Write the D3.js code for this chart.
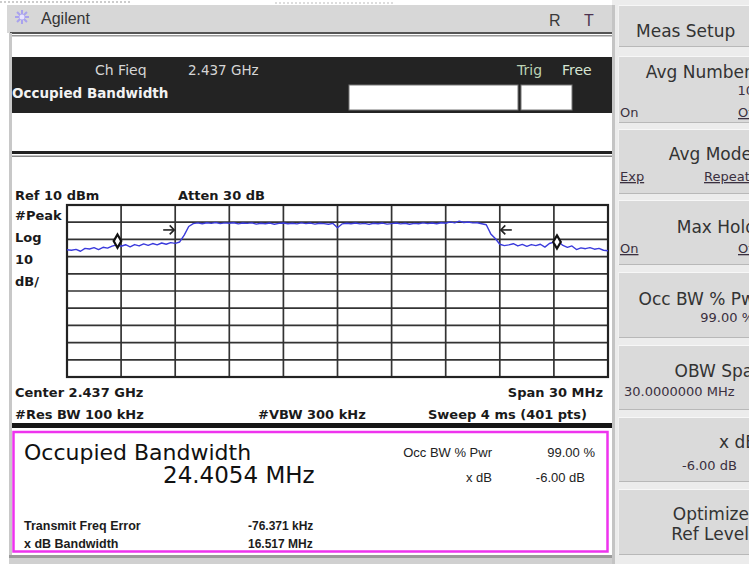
<!DOCTYPE html>
<html>
<head>
<meta charset="utf-8">
<script src="https://cdn.jsdelivr.net/npm/d3@7"></script>
<style>
  html, body { margin: 0; padding: 0; background: #fff; overflow: hidden; }
  svg { display: block; }
</style>
</head>
<body>
<svg id="scr" width="749" height="564"></svg>
<script>
"use strict";

// trace: 121 sweep points from -15 MHz to +15 MHz around 2.437 GHz (dBm)
const spanMHz = [-15, 15];
const levelRange = [-90, 10];
const traceLevels = [
  -16.0, -16.3, -15.8, -16.9, -15.2, -15.6, -14.8, -15.9, -14.6, -15.1,
  -13.9, -13.2, -14.0, -13.1, -14.3, -13.0, -13.8, -12.6, -13.5, -12.4,
  -13.2, -12.1, -12.8, -11.9, -12.3, -11.5, -7.5, -2.5, -0.8, -0.4,
  -0.9, -0.3, -0.7, -0.2, -0.8, -0.4, -0.6, -0.3, -1.0, -0.5,
  -0.7, -0.4, -1.1, -0.6, -0.9, -0.5, -1.2, -0.7, -0.5, -0.9,
  -0.6, -1.0, -0.4, -0.8, -0.5, -1.1, -0.6, -0.8, -1.2, -0.7,
  -3.2, -1.0, -0.6, -0.9, -0.5, -1.0, -0.7, -1.3, -0.6, -0.9,
  -0.5, -1.1, -0.8, -0.5, -1.0, -0.6, -1.2, -0.7, -0.9, -0.4,
  -0.8, -0.5, -0.9, -0.3, -0.6, 0.2, -0.4, 0.6, -0.2, 0.1,
  -0.4, -0.3, -0.9, -1.5, -6.8, -9.5, -12.8, -13.6, -13.2, -12.5,
  -13.8, -12.9, -14.0, -13.0, -13.6, -12.8, -14.5, -12.4, -11.6, -11.2,
  -13.5, -14.6, -13.8, -15.9, -14.9, -15.4, -14.8, -15.7, -15.2, -16.3,
  -16.6
];
const freqTicks = [-15, -12, -9, -6, -3, 0, 3, 6, 9, 12, 15];
const levelTicks = [10, 0, -10, -20, -30, -40, -50, -60, -70, -80, -90];
const obwFreqs = [-12.20, 12.17];
const obwLevels = [-11.0, -11.5];
const xdbFreqs = [-9.0, 9.0];
const xdbLevels = [-4.5, -4.5];
const xdbDirs = [1, -1];

const FONT = "'DejaVu Sans', sans-serif";
const ARIAL = "'Liberation Sans', Arial, sans-serif";
const svg = d3.select("#scr");

function label(parent, x, y, text, o = {}) {
  return parent.append("text")
    .attr("x", x)
    .attr("y", y)
    .attr("font-family", o.family || FONT)
    .attr("font-size", o.size || 12)
    .attr("font-weight", o.weight || "normal")
    .attr("text-anchor", o.anchor || "start")
    .attr("fill", o.fill || "#111")
    .attr("text-decoration", o.underline ? "underline" : null)
    .text(text);
}

// ---- left panel frame ----
svg.append("rect").attr("x", 0).attr("y", 0).attr("width", 749).attr("height", 564).attr("fill", "#fff");
svg.append("line").attr("x1", 0).attr("x2", 130).attr("y1", 2).attr("y2", 2)
  .attr("stroke", "#999").attr("stroke-dasharray", "2,2");
svg.append("line").attr("x1", 275).attr("x2", 395).attr("y1", 3).attr("y2", 3)
  .attr("stroke", "#bbb").attr("stroke-dasharray", "2,2");
svg.append("rect").attr("x", 7).attr("y", 5).attr("width", 606).attr("height", 28).attr("fill", "#d7d7d7");
svg.append("rect").attr("x", 10).attr("y", 32).attr("width", 603).attr("height", 2).attr("fill", "#555");
svg.append("rect").attr("x", 10).attr("y", 35).attr("width", 603).attr("height", 1.5).attr("fill", "#999");
svg.append("rect").attr("x", 9).attr("y", 33).attr("width", 3).attr("height", 522).attr("fill", "#c8c8c8");

// title bar
const star = svg.append("g").attr("transform", "translate(22,17)");
[0, 45, 90, 135].forEach((a) => {
  star.append("line").attr("x1", -7).attr("x2", 7).attr("y1", 0).attr("y2", 0)
    .attr("transform", `rotate(${a})`).attr("stroke", "#a9a2ee").attr("stroke-width", 2);
});
star.append("circle").attr("r", 2.5).attr("fill", "#e8e4ff");
label(svg, 41, 24, "Agilent", { size: 16, fill: "#333", family: ARIAL });
label(svg, 549, 26, "R", { size: 16, fill: "#3a3a3a", family: ARIAL });
label(svg, 584, 26, "T", { size: 16, fill: "#4d3350", family: ARIAL });

// black measurement bar
svg.append("rect").attr("x", 12).attr("y", 57).attr("width", 600).attr("height", 56).attr("fill", "#232323");
label(svg, 95, 75, "Ch Fieq", { size: 14, fill: "#d6d6d6" });
label(svg, 188, 75, "2.437 GHz", { size: 13.5, fill: "#d6d6d6" });
label(svg, 12, 98, "Occupied Bandwidth", { size: 13.5, weight: "bold", fill: "#f2f2f2" });
label(svg, 517, 75, "Trig", { size: 14, fill: "#bcd2b4" });
label(svg, 562, 75, "Free", { size: 14, fill: "#d6e4d2" });
svg.append("rect").attr("x", 349).attr("y", 85).attr("width", 169).attr("height", 25)
  .attr("fill", "#fff").attr("stroke", "#777").attr("stroke-width", 1);
svg.append("rect").attr("x", 521).attr("y", 85).attr("width", 51).attr("height", 25)
  .attr("fill", "#fff").attr("stroke", "#777").attr("stroke-width", 1);

svg.append("rect").attr("x", 12).attr("y", 151).attr("width", 600).attr("height", 3).attr("fill", "#222");
svg.append("rect").attr("x", 12).attr("y", 155.5).attr("width", 600).attr("height", 1.5).attr("fill", "#888");

// ---- spectrum plot ----
const x = d3.scaleLinear().domain(spanMHz).range([67, 608]);
const y = d3.scaleLinear().domain(levelRange).range([377, 205]);
const idx = d3.scaleLinear().domain([0, traceLevels.length - 1]).range(spanMHz);

const plot = svg.append("g");
plot.append("g").selectAll("line").data(freqTicks).join("line")
  .attr("x1", (d) => x(d)).attr("x2", (d) => x(d))
  .attr("y1", y(levelRange[1])).attr("y2", y(levelRange[0]))
  .attr("stroke", "#333").attr("stroke-width", 1.7);
plot.append("g").selectAll("line").data(levelTicks).join("line")
  .attr("x1", x(spanMHz[0])).attr("x2", x(spanMHz[1]))
  .attr("y1", (d) => y(d)).attr("y2", (d) => y(d))
  .attr("stroke", "#333").attr("stroke-width", 1.7);
plot.append("rect")
  .attr("x", x(spanMHz[0])).attr("y", y(levelRange[1]))
  .attr("width", x(spanMHz[1]) - x(spanMHz[0]))
  .attr("height", y(levelRange[0]) - y(levelRange[1]))
  .attr("fill", "none").attr("stroke", "#222").attr("stroke-width", 2.2);

const line = d3.line().x((d, i) => x(idx(i))).y((d) => y(d));
plot.append("path").datum(traceLevels)
  .attr("d", line).attr("fill", "none")
  .attr("stroke", "#3b3bdc").attr("stroke-width", 1.4).attr("stroke-linejoin", "round");

// OBW diamond markers
plot.selectAll("path.obw").data(obwFreqs).join("path")
  .attr("class", "obw")
  .attr("d", d3.symbol(d3.symbolDiamond, 50))
  .attr("transform", (d, i) => `translate(${x(d)},${y(obwLevels[i])})`)
  .attr("fill", "#fff").attr("stroke", "#111").attr("stroke-width", 2.2);

// x dB arrows
plot.selectAll("g.xdb").data(xdbFreqs).join("g")
  .attr("class", "xdb")
  .attr("transform", (d, i) => `translate(${x(d)},${y(xdbLevels[i])}) scale(${xdbDirs[i]},1)`)
  .each(function () {
    const a = d3.select(this);
    a.append("line").attr("x1", -12).attr("x2", -1).attr("y1", 0).attr("y2", 0)
      .attr("stroke", "#222").attr("stroke-width", 1.6);
    a.append("path").attr("d", "M-5.5,-4.5 L-1,0 L-5.5,4.5").attr("fill", "none")
      .attr("stroke", "#222").attr("stroke-width", 1.6);
  });

// plot annotations
const B = { size: 13, weight: "bold", fill: "#1a1a1a" };
label(svg, 15, 200, "Ref 10 dBm", B);
label(svg, 178, 200, "Atten 30 dB", B);
label(svg, 15, 220, "#Peak", B);
label(svg, 15, 242, "Log", B);
label(svg, 15, 264, "10", B);
label(svg, 15, 286, "dB/", B);
label(svg, 15, 397, "Center 2.437 GHz", B);
label(svg, 603, 397, "Span 30 MHz", { ...B, anchor: "end" });
label(svg, 15, 419, "#Res BW 100 kHz", B);
label(svg, 258, 419, "#VBW 300 kHz", B);
label(svg, 587, 419, "Sweep 4 ms (401 pts)", { ...B, anchor: "end" });

svg.append("rect").attr("x", 12).attr("y", 423).attr("width", 600).attr("height", 5).attr("fill", "#161616");

// ---- result box ----
svg.append("rect").attr("x", 13.5).attr("y", 432).attr("width", 594).attr("height", 119.5)
  .attr("fill", "#fff").attr("stroke", "#ee33ee").attr("stroke-width", 2.5);
label(svg, 24, 460, "Occupied Bandwidth", { size: 22, fill: "#111" });
label(svg, 163, 483, "24.4054 MHz", { size: 23, fill: "#111" });
const S = { size: 12.5, weight: "bold", fill: "#1c1c1c", family: ARIAL };
label(svg, 24, 530, "Transmit Freq Error", S);
label(svg, 24, 548, "x dB Bandwidth", S);
const SV = { size: 12, weight: "bold", fill: "#1c1c1c", family: ARIAL };
label(svg, 248, 530, "-76.371 kHz", SV);
label(svg, 248, 548, "16.517 MHz", SV);
const R = { size: 13, fill: "#222", anchor: "end", family: ARIAL };
label(svg, 492, 457, "Occ BW % Pwr", R);
label(svg, 595, 457, "99.00 %", R);
label(svg, 492, 482, "x dB", R);
label(svg, 585, 482, "-6.00 dB", R);

svg.append("rect").attr("x", 9).attr("y", 555).attr("width", 604).attr("height", 3).attr("fill", "#9a9a9a");
svg.append("rect").attr("x", 9).attr("y", 558).attr("width", 604).attr("height", 6).attr("fill", "#d0d0d0");

// ---- softkey panel ----
svg.append("rect").attr("x", 612).attr("y", 0).attr("width", 137).attr("height", 564).attr("fill", "#ececec");
svg.append("rect").attr("x", 612).attr("y", 5).attr("width", 3).attr("height", 559).attr("fill", "#c4c4c4");

const keyTops = [5, 56, 129, 200, 272, 345, 417, 489];
const keyHeights = [42, 67, 65, 65, 66, 65, 65, 66];
const keys = svg.append("g");
keyTops.forEach((t, i) => {
  keys.append("rect").attr("x", 618).attr("y", t).attr("width", 140).attr("height", keyHeights[i])
    .attr("fill", "#dadada");
  keys.append("line").attr("x1", 618).attr("x2", 749).attr("y1", t + 0.5).attr("y2", t + 0.5)
    .attr("stroke", "#f7f7f7").attr("stroke-width", 1);
  keys.append("line").attr("x1", 618).attr("x2", 749)
    .attr("y1", t + keyHeights[i] - 0.5).attr("y2", t + keyHeights[i] - 0.5)
    .attr("stroke", "#b8b8b8").attr("stroke-width", 1);
  keys.append("line").attr("x1", 618.5).attr("x2", 618.5).attr("y1", t).attr("y2", t + keyHeights[i])
    .attr("stroke", "#f2f2f2").attr("stroke-width", 1);
});

const K = { size: 17, fill: "#333" };
const KR = { ...K, anchor: "end" };
const k = { size: 13, fill: "#3a3040" };
label(svg, 636, 37, "Meas Setup", K);
label(svg, 751, 78, "Avg Number", KR);
label(svg, 754, 95, "10", { ...k, anchor: "end" });
label(svg, 620, 117, "On", k);
label(svg, 738, 117, "Off", { ...k, underline: true });
label(svg, 752, 160, "Avg Mode", KR);
label(svg, 620, 181, "Exp", { ...k, underline: true });
label(svg, 704, 181, "Repeat", { ...k, underline: true });
label(svg, 756, 233, "Max Hold", KR);
label(svg, 620, 253, "On", { ...k, underline: true });
label(svg, 738, 253, "Off", { ...k, underline: true });
label(svg, 762, 305, "Occ BW % Pwr", KR);
label(svg, 754, 322, "99.00 %", { ...k, anchor: "end" });
label(svg, 764, 377, "OBW Span", KR);
label(svg, 624, 396, "30.0000000 MHz", k);
label(svg, 757, 448, "x dB", KR);
label(svg, 682, 470, "-6.00 dB", k);
label(svg, 749, 520, "Optimize", KR);
label(svg, 749, 540, "Ref Level", KR);
</script>
</body>
</html>
